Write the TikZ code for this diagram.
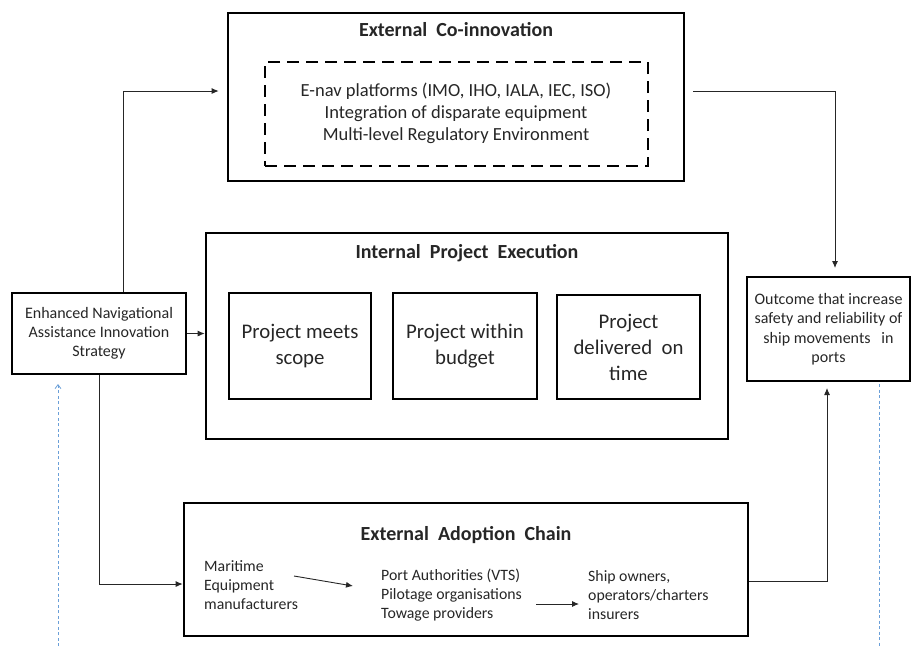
\documentclass[tikz,border=0pt]{standalone}
\usepackage{fontspec}
\setmainfont{Carlito}
\usetikzlibrary{arrows.meta,calc}
\definecolor{txt}{HTML}{262626}
\definecolor{dotblue}{HTML}{6A9FD8}
\tikzset{
  bigbox/.style={draw=black, line width=2.6pt, minimum width=#1, inner sep=0pt},
  thinbox/.style={draw=black, line width=2pt, inner sep=0pt, align=center, text=txt},
  ttl/.style={font=\fontsize{20}{22}\selectfont\bfseries, text=txt, inner sep=0pt},
  proj/.style={draw=black, line width=2.4pt, align=center, inner sep=0pt, text=txt,
    font=\fontsize{20.8}{26}\selectfont},
  small/.style={font=\fontsize{15.8}{19}\selectfont, text=txt, align=left, inner sep=0pt},
  arr/.style={draw=black!85, line width=0.9pt, -{Latex[length=7pt,width=6pt]}},
  bluedash/.style={draw=dotblue, line width=0.8pt, dash pattern=on 3pt off 2.5pt},
}
\begin{document}
\begin{tikzpicture}[x=1pt,y=-1pt]
\useasboundingbox (0,0) rectangle (912,646);
% External Co-innovation
\node[bigbox=456pt, minimum height=168pt] (coinno) at (456,97) {};
\node[ttl] (coinnot) at (456,30) {External\ \ Co-innovation};
\node[draw=black, line width=2.6pt, dash pattern=on 12pt off 7pt, minimum width=383pt, minimum height=104pt, inner sep=0pt] (dash) at (456.5,114) {};
\node[inner sep=0pt, align=center, text=txt, font=\fontsize{18.5}{22}\selectfont] (dasht) at (456,113) {E-nav platforms (IMO, IHO, IALA, IEC, ISO)\\Integration of disparate equipment\\Multi-level Regulatory Environment};
% Internal Project Execution
\node[bigbox=522pt, minimum height=206pt] (internal) at (467,336) {};
\node[ttl] (internalt) at (467,253) {Internal\ \ Project\ \ Execution};
\node[proj, minimum width=142pt, minimum height=106pt] (b1) at (300,346) {Project meets\\scope};
\node[proj, minimum width=144pt, minimum height=106pt] (b2) at (465,346) {Project within\\budget};
\node[proj, minimum width=143pt, minimum height=104pt] (b3) at (628.5,347) {Project\\delivered\ \ on\\time};
% Strategy
\node[thinbox, minimum width=174pt, minimum height=81pt, font=\fontsize{16}{19}\selectfont] (strategy) at (99,333.5) {Enhanced Navigational\\Assistance Innovation\\Strategy};
% Outcome
\node[thinbox, minimum width=163pt, minimum height=104pt, font=\fontsize{16}{19.5}\selectfont] (outcome) at (828.5,329) {Outcome that increase\\safety and reliability of\\ship movements\ \ \ in\\ports};
% External Adoption Chain
\node[bigbox=564pt, minimum height=133pt] (adoption) at (466,569.5) {};
\node[ttl] (adoptiont) at (466,535) {External\ \ Adoption\ \ Chain};
\node[small, anchor=west] (mar) at (204,585) {Maritime\\Equipment\\manufacturers};
\node[small, anchor=west] (port) at (381,595) {Port Authorities (VTS)\\Pilotage organisations\\Towage providers};
\node[small, anchor=west] (ship) at (588,595) {Ship owners,\\operators/charters\\insurers};
% connectors
\draw[arr, shorten >=8pt] ([xshift=24pt]strategy.north) |- ([yshift=6pt]coinno.west);
\draw[arr, shorten <=8pt, shorten >=8pt] ([yshift=6pt]coinno.east) -| ([xshift=6.5pt]outcome.north);
\draw[arr] (strategy.east) -- (strategy.east -| internal.west);
\draw[arr] (strategy.south) |- ([yshift=-14.5pt]adoption.west);
\draw[arr, shorten >=6pt] ([yshift=-11.5pt]adoption.east) -| ([xshift=-1.5pt]outcome.south);
\draw[arr] ([xshift=-87pt,yshift=19pt]port.west) -- ([xshift=-28pt,yshift=9pt]port.west);
\draw[arr] ([xshift=-52pt,yshift=-9pt]ship.west) -- ([xshift=-9pt,yshift=-9pt]ship.west);
% blue dashed lines
\coordinate (lb) at (58,646);
\coordinate (rb) at (879,646);
\draw[bluedash, -{Straight Barb[length=4pt,width=6pt]}] (lb) -- ([yshift=-9pt]strategy.south -| lb);
\draw[bluedash] ([yshift=-2pt]outcome.south -| rb) -- (rb);
\end{tikzpicture}
\end{document}
